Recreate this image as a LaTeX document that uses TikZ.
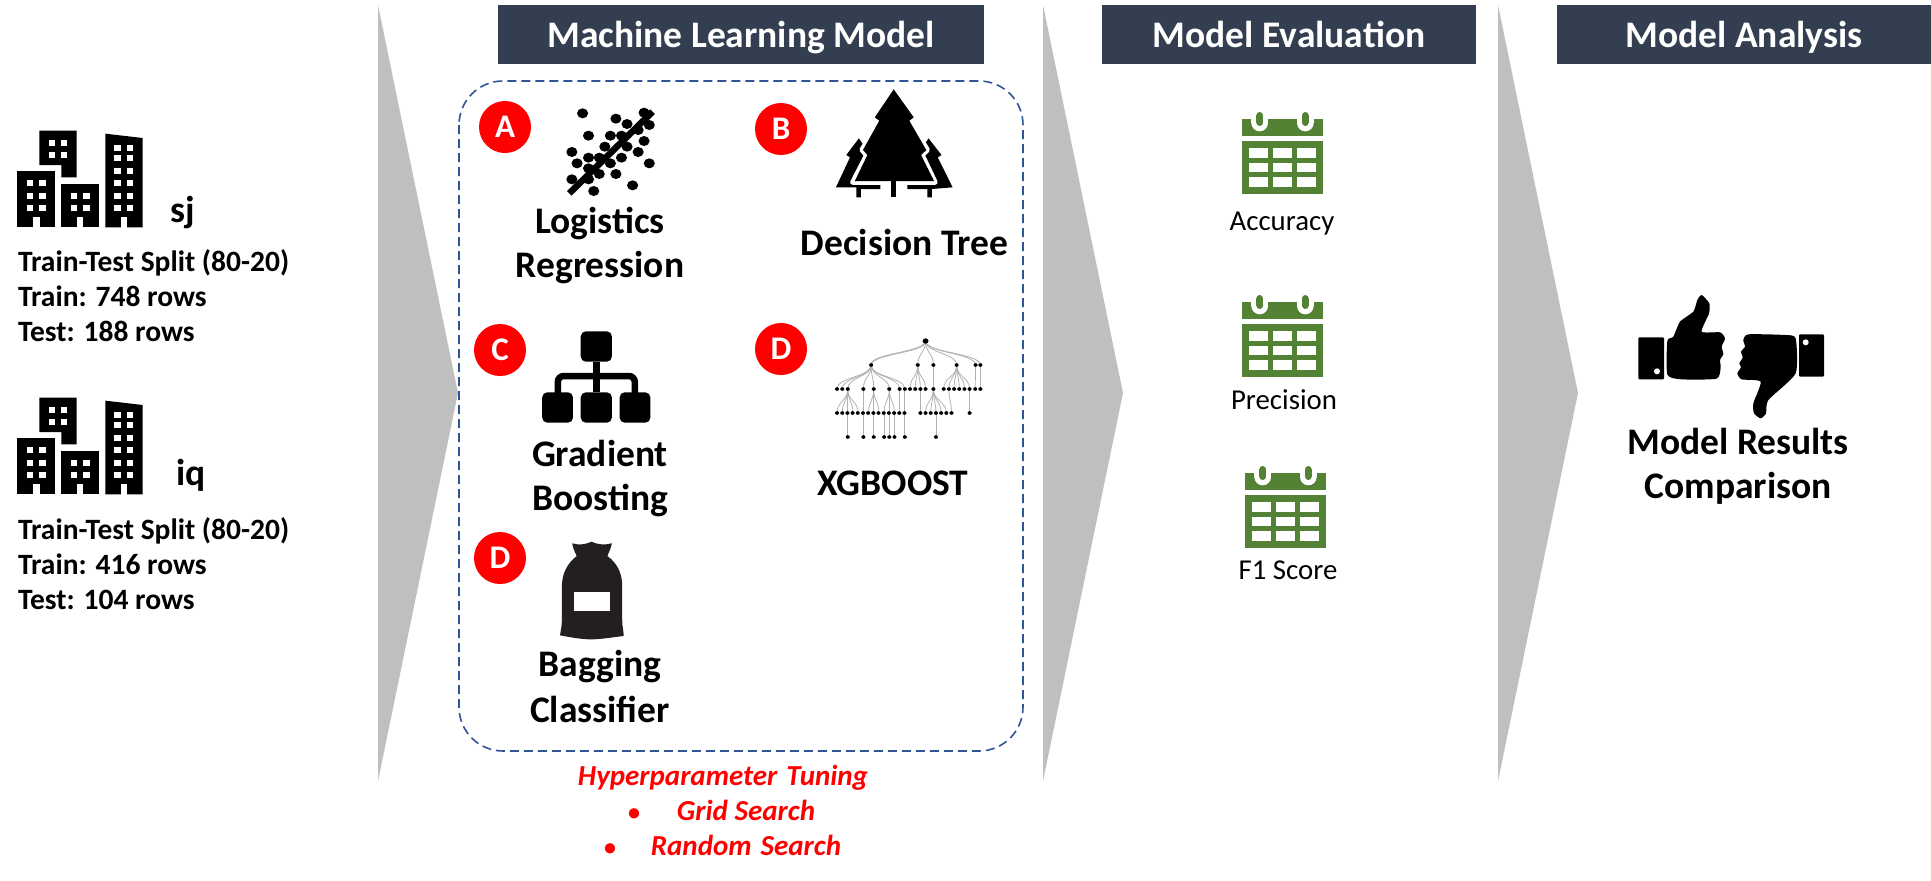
\documentclass[tikz,border=0pt]{standalone}
\usepackage{fontspec}
\setmainfont{Carlito}

\definecolor{headblue}{HTML}{333F50}
\definecolor{boxblue}{HTML}{2F5597}
\definecolor{arrowgray}{HTML}{BFBFBF}
\definecolor{calgreen}{HTML}{548235}
\definecolor{bagblack}{HTML}{231F20}

\tikzset{
  head/.style={fill=headblue, text=white, font=\bfseries\fontsize{37.5}{44}\selectfont, inner sep=0pt, text height=33pt, text depth=8pt},
  badge/.style={circle, fill=red, text=white, font=\bfseries\fontsize{33}{38}\selectfont, minimum size=52pt, inner sep=0pt},
  model/.style={anchor=base, font=\bfseries\fontsize{37.5}{44}\selectfont},
  info/.style={anchor=base west, font=\bfseries\fontsize{29.5}{35}\selectfont},
  metric/.style={anchor=base, font=\fontsize{28.8}{34}\selectfont},
  tuning/.style={anchor=base, text=red, font=\bfseries\itshape\fontsize{29}{35}\selectfont},
  dotmark/.style={anchor=base, text=red, font=\bfseries\fontsize{24}{30}\selectfont},
  treeline/.style={draw=black!30, line width=0.8pt},
  icon/.style={xscale=1/2.7, yscale=1/3}
}

% icons are typed in crop units, then scaled down
\newcommand{\cityicon}[1]{
\begin{scope}[shift={(0,#1)}, scale=1/3]
\fill (52,213) rectangle (165,382);
\fill (184,251) rectangle (296,382);
\fill (316,101) -- (428,114) -- (428,382) -- (316,382) -- cycle;
\fill (118,92) -- (230,92) -- (230,232) -- (184,232) -- (184,195) -- (118,195) -- cycle;
\foreach \yy in {241,279,316} {
  \fill[white] (81,\yy) rectangle +(19,18);
  \fill[white] (118,\yy) rectangle +(19,18);
}
\foreach \yy in {279,316} {
  \fill[white] (212,\yy) rectangle +(19,18);
  \fill[white] (250,\yy) rectangle +(19,18);
}
\foreach \yy in {134,166,204,241,279,316} {
  \fill[white] (343,\yy) rectangle +(19,18);
  \fill[white] (381,\yy) rectangle +(19,18);
}
\foreach \xx in {100,231,362}
  \fill[white] (\xx,352) rectangle +(19,31);
\foreach \yy in {120,157} {
  \fill[white] (147,\yy) rectangle +(18,18);
  \fill[white] (184,\yy) rectangle +(18,18);
}
\end{scope}
}

\newcommand{\calicon}[2]{
\begin{scope}[shift={(#1,#2)}, scale=1/3]
\fill[calgreen] (125,87) rectangle (370,138);
\fill[calgreen] (125,153) rectangle (370,312);
\foreach \xx in {147,219,291}
  \foreach \yy in {174,218,262}
    \fill[white] (\xx,\yy) rectangle +(57,29);
\foreach \xx in {179,316} {
  \fill[white] (\xx-25,80) rectangle (\xx+25,100);
  \fill[white] (\xx,99) circle (25);
  \fill[calgreen] (\xx-10,76) rectangle (\xx+10,98);
  \fill[calgreen] (\xx,76) circle (10);
  \fill[calgreen] (\xx,98) circle (10);
}
\end{scope}
}

\newcommand{\treedges}[3]{
\foreach \cx in {#3}
  \draw[treeline] (#1,#2) .. controls (#1,#2+36) and (\cx,#2+36) .. (\cx,#2+72);
}

\begin{document}
\begin{tikzpicture}[x=1pt, y=-1pt]

\useasboundingbox (0,0) rectangle (1931,881);

% grey arrows
\foreach \ax in {378,1043,1498}
  \fill[arrowgray] (\ax,5) -- (\ax+80,393) -- (\ax,781) -- cycle;

% headers
\node (headml) at (741,34.5) [head, minimum width=486pt, minimum height=59pt] {Machine Learning Model};
\node (headeval) at (1289,34.5) [head, minimum width=374pt, minimum height=59pt] {Model Evaluation};
\node (headres) at (1744,34.5) [head, minimum width=374pt, minimum height=59pt] {Model Analysis};

% left column
\cityicon{100}
\node (sj) at (183,222) [info, anchor=base, font=\bfseries\fontsize{37.5}{44}\selectfont] {sj};
\node (splita) at (14.5,271) [info] {Train-Test Split (80-20)};
\node (traina) at (14.5,306) [info] {Train: 748 rows};
\node (testa) at (14.5,341) [info] {Test: 188 rows};

\cityicon{367}
\node (iq) at (191,485) [info, anchor=base, font=\bfseries\fontsize{37.5}{44}\selectfont] {iq};
\node (splitb) at (14.5,539) [info] {Train-Test Split (80-20)};
\node (trainb) at (14.5,574) [info] {Train: 416 rows};
\node (testb) at (14.5,609.5) [info] {Test: 104 rows};

% model box
\draw[boxblue, line width=1.6pt, dash pattern=on 9pt off 5pt, rounded corners=44pt] (459,81) rectangle (1023,751);

\node (a) at (505,127) [badge] {A};
\node (b) at (781,129) [badge] {B};
\node (c) at (500,350) [badge] {C};
\node (d) at (781,349) [badge] {D};
\node (e) at (500,558) [badge] {D};

% scatter
\begin{scope}[shift={(460,70)}, icon]
\draw[line width=6.5pt] (295,370) -- (520,125);
\foreach \xx/\yy in {331/130,421/146,497/128,451/162,511/165,347/197,406/197,436/197,481/180,497/213,391/230,451/230,481/246,302/246,347/263,376/263,436/263,316/280,406/280,511/280,347/295,376/312,421/312,302/328,347/328,466/346,361/363}
  \fill (\xx,\yy) circle (15);
\end{scope}

% pine trees
\begin{scope}[shift={(460,70)}, icon]
\fill (1077,205) -- (1043,255) -- (1053,262) -- (1015,352) -- (1070,352) -- (1070,382) -- (1082,382) -- (1082,357) -- (1135,357) -- (1135,300) -- cycle;
\fill (1265,205) -- (1300,255) -- (1290,262) -- (1330,352) -- (1274,357) -- (1274,382) -- (1262,382) -- (1262,357) -- (1208,357) -- (1208,300) -- cycle;
\filldraw[fill=black, draw=white, line width=5pt, line join=round] (1171,58) -- (1117,143) -- (1130,152) -- (1085,240) -- (1098,255) -- (1060,337) -- (1283,337) -- (1248,255) -- (1262,240) -- (1215,152) -- (1228,143) -- cycle;
\fill (1171,58) -- (1120,142) -- (1132,152) -- (1088,240) -- (1100,255) -- (1066,333) -- (1280,333) -- (1245,255) -- (1259,240) -- (1213,152) -- (1225,142) -- cycle;
\fill (1164,333) rectangle (1178,382);
\end{scope}

% org chart
\begin{scope}[shift={(460,310)}, icon]
\fill[rounded corners=5pt] (326,64) rectangle (410,155);
\fill[rounded corners=5pt] (222,247) rectangle (305,338);
\fill[rounded corners=5pt] (326,247) rectangle (410,338);
\fill[rounded corners=5pt] (431,247) rectangle (514,338);
\draw[line width=6.5pt] (368,155) -- (368,247);
\draw[line width=6.5pt, rounded corners=6pt] (264,250) -- (264,198) -- (472,198) -- (472,250);
\end{scope}

% boosted tree
\begin{scope}[shift={(460,310)}, icon]
\foreach \cx in {1110,1236,1278,1341,1392,1405}
  \draw[treeline] (1257,93) .. controls (1257,129) and (\cx,129) .. (\cx,165);
\draw[treeline, line width=1.4pt] (1257,93) .. controls (1257,129) and (1110,129) .. (1110,165);
\treedges{1110}{165}{1018,1032,1047,1089,1117,1159,1187,1201}
\treedges{1236}{165}{1215,1229,1243,1257}
\treedges{1278}{165}{1278}
\treedges{1341}{165}{1306,1320,1334,1348,1362,1376}
\treedges{1392}{165}{1391}
\treedges{1405}{165}{1405}
\treedges{1047}{237}{1018,1032,1047,1061,1075}
\treedges{1089}{237}{1089}
\treedges{1117}{237}{1103,1117,1131}
\treedges{1159}{237}{1145,1159,1173}
\treedges{1187}{237}{1187}
\treedges{1201}{237}{1201}
\treedges{1243}{237}{1243}
\treedges{1278}{237}{1257,1271,1285,1299,1313}
\treedges{1320}{237}{1327}
\treedges{1376}{237}{1376}
\foreach \cx in {1047,1089,1117,1145,1159,1173,1201,1285}
  \draw[treeline] (\cx,309) -- (\cx,381);
\fill (1257,93) circle (8);
\foreach \cx in {1110,1236,1278,1341,1392,1405}
  \fill (\cx,165) circle (5.5);
\foreach \cx in {1018,1032,1047,1089,1117,1159,1187,1201,1215,1229,1243,1257,1278,1306,1320,1334,1348,1362,1376,1391,1405}
  \fill (\cx,237) circle (5.5);
\foreach \cx in {1018,1032,...,1201,1243,1257,1271,1285,1299,1313,1327,1376}
  \fill (\cx,309) circle (5.5);
\foreach \cx in {1047,1089,1117,1145,1159,1173,1201,1285}
  \fill (\cx,381) circle (5.5);
\end{scope}

% bag
\begin{scope}[shift={(460,530)}, icon]
\fill[bagblack] (303,40) .. controls (320,45) and (335,45) .. (355,35) .. controls (375,45) and (390,45) .. (410,40) .. controls (408,55) and (402,65) .. (398,78) .. controls (425,100) and (438,130) .. (438,170) -- (438,270) .. controls (438,290) and (442,305) .. (442,318) .. controls (410,322) and (380,328) .. (355,328) .. controls (325,328) and (300,322) .. (270,316) .. controls (272,300) and (275,290) .. (275,270) -- (275,170) .. controls (275,130) and (290,100) .. (315,78) .. controls (310,65) and (305,55) .. (303,40) -- cycle;
\fill[white] (307,187) rectangle (405,242);
\end{scope}

\node (logi) at (600,233) [model] {Logistics};
\node (regr) at (600,277) [model] {Regression};
\node (dtree) at (904.5,255) [model] {Decision Tree};
\node (grad) at (600,466) [model] {Gradient};
\node (boost) at (600,510) [model] {Boosting};
\node (xgb) at (893,495) [model] {XGBOOST};
\node (bagg) at (600,676) [model] {Bagging};
\node (clas) at (600,722) [model] {Classifier};

% tuning notes
\node (hyper) at (723,785) [tuning] {Hyperparameter\hspace{9pt}Tuning};
\node (gridb) at (634,820) [dotmark] {•};
\node (grid) at (746,820) [tuning] {Grid Search};
\node (randb) at (610,855) [dotmark] {•};
\node (rand) at (746,855) [tuning] {Random\hspace{9pt}Search};

% metrics
\calicon{1200}{90}
\calicon{1200}{273}
\calicon{1203}{444}
\node (acc) at (1282,230) [metric] {Accuracy};
\node (prec) at (1284,409) [metric] {Precision};
\node (fone) at (1288,579) [metric] {F1 Score};

% thumbs
\begin{scope}[shift={(1610,280)}, scale=1/3]
\fill[rounded corners=1pt] (85,172) rectangle (162,298);
\fill[white] (141,274) circle (9);
\fill plot[smooth cycle, tension=0.35] coordinates {(172,183) (190,170) (210,125) (250,95) (262,60) (275,45) (298,70) (297,100) (275,155) (330,157) (345,175) (335,200) (340,222) (330,240) (332,262) (320,296) (215,298) (172,284)};
\fill[rounded corners=1pt] (567,163) rectangle (642,290);
\fill[white] (587,187) circle (9);
\fill plot[smooth cycle, tension=0.35] coordinates {(557,175) (525,165) (415,163) (400,180) (405,200) (393,215) (398,232) (388,250) (393,262) (382,280) (395,298) (452,305) (430,370) (432,400) (452,415) (468,400) (475,360) (557,280)};
\end{scope}
\node (resa) at (1738,454) [model] {Model Results};
\node (resb) at (1738,498) [model] {Comparison};

\end{tikzpicture}
\end{document}
